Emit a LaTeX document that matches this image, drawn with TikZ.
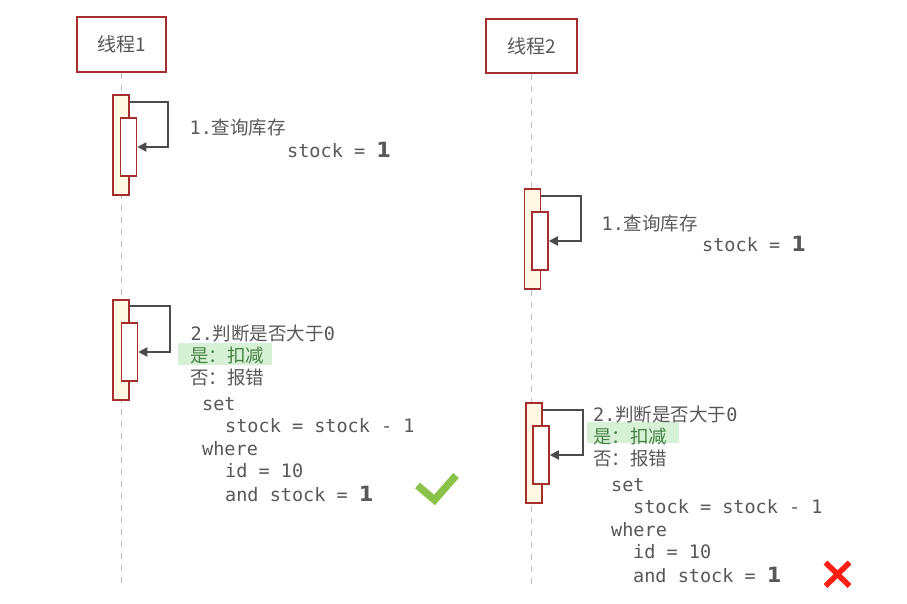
\documentclass[tikz,border=0pt]{standalone}
\usepackage{fontspec}
\setmainfont{DejaVu Sans Mono}
\newfontfamily\cjk{Noto Sans CJK SC}
\newfontfamily\bnum{DejaVu Sans}
\usetikzlibrary{arrows.meta}
\definecolor{boxred}{RGB}{165,45,45}
\definecolor{actfill}{RGB}{255,249,228}
\definecolor{txtgray}{RGB}{88,88,88}
\definecolor{arrowgray}{RGB}{75,75,75}
\definecolor{lifegray}{RGB}{190,190,190}
\definecolor{hlgreen}{RGB}{214,241,214}
\definecolor{txtgreen}{RGB}{70,130,70}
\definecolor{okgreen}{RGB}{139,195,74}
\definecolor{badred}{RGB}{255,30,20}
\tikzset{
  header/.style={draw=boxred, line width=1.8pt, fill=white, minimum width=89pt, minimum height=55pt, inner sep=0pt, font=\cjk\fontsize{19}{19}\selectfont, text=txtgray},
  actouter/.style={draw=boxred, line width=1.6pt, fill=actfill, minimum width=16pt, minimum height=100pt, inner sep=0pt},
  actinner/.style={draw=boxred, line width=1.6pt, fill=white, minimum width=16pt, minimum height=58pt, inner sep=0pt},
  lifeline/.style={draw=lifegray, line width=1.8pt, dash pattern=on 6pt off 6pt},
  selfmsg/.style={draw=arrowgray, line width=1.8pt, -{Triangle[length=9pt,width=9pt]}},
  txt/.style={anchor=base west, inner sep=0pt, text=txtgray, font=\fontsize{18.5}{22.5}\selectfont},
  gtxt/.style={txt, text=txtgreen},
  hl/.style={fill=hlgreen, draw=none},
  bignum/.style={font=\bnum\bfseries\fontsize{21}{21}\selectfont}
}
\newcommand{\bone}{{\bnum\bfseries\fontsize{21}{21}\selectfont 1}}
\begin{document}
\begin{tikzpicture}[x=1pt,y=-1pt]
\useasboundingbox (0,0) rectangle (907,604);
\fill[white] (0,0) rectangle (907,604);

% headers
\node[header] (t1) at (121.5,44.5) {线程1};
\node[header, minimum width=91pt, minimum height=54pt] (t2) at (531.5,46) {线程2};

% lifelines
\coordinate (e1) at (121.5,584);
\coordinate (e2) at (531.5,585);
\draw[lifeline] (t1.south) -- (e1);
\draw[lifeline] (t2.south) -- (e2);

% thread 1 activations
\node[actouter] (a1o) at (121,145) {};
\node[actinner] (a1i) at (128.5,147) {};
\draw[selfmsg] ([yshift=-8pt]a1o.north east) -| ([xshift=31pt]a1i.east) -- (a1i.east);

\node[actouter] (b1o) at (121,350) {};
\node[actinner] (b1i) at (129.5,352) {};
\draw[selfmsg] ([yshift=-7pt]b1o.north east) -| ([xshift=32pt]b1i.east) -- (b1i.east);

% thread 2 activations
\node[actouter] (a2o) at (532.5,239) {};
\node[actinner] (a2i) at (540,241) {};
\draw[selfmsg] ([yshift=-8pt]a2o.north east) -| ([xshift=32pt]a2i.east) -- (a2i.east);

\node[actouter] (b2o) at (534,453) {};
\node[actinner] (b2i) at (541,455) {};
\draw[selfmsg] ([yshift=-8pt]b2o.north east) -| ([xshift=33pt]b2i.east) -- (b2i.east);

% thread 1 texts
\node[txt] (q1) at (189.5,135) {1.{\cjk 查询库存}};
\node[txt] (s1) at (287,158) {stock = \bone};

\fill[hl] (178,343) rectangle (272,365);
\node[txt] (j1) at (190.5,340) {2.{\cjk 判断是否大于}0};
\node[gtxt] (y1) at (190,362) {\cjk 是：扣减};
\node[txt] (n1) at (190,384) {\cjk 否：报错};
\node[txt] (c1a) at (202,410) {set};
\node[txt] (c1b) at (225,432.5) {stock = stock - 1};
\node[txt] (c1c) at (202,455) {where};
\node[txt] (c1d) at (225,477.5) {id = 10};
\node[txt] (c1e) at (225,501) {and stock = \bone};

% check mark
\draw[okgreen, line width=7.5pt, line join=miter] (417.5,485.5) -- (434.5,500) -- (456,475.5);

% thread 2 texts
\node[txt] (q2) at (601.5,230) {1.{\cjk 查询库存}};
\node[txt] (s2) at (702,251) {stock = \bone};

\fill[hl] (587,422) rectangle (679,443);
\node[txt] (j2) at (593,421) {2.{\cjk 判断是否大于}0};
\node[gtxt] (y2) at (593,443) {\cjk 是：扣减};
\node[txt] (n2) at (593,465) {\cjk 否：报错};
\node[txt] (c2a) at (611,491) {set};
\node[txt] (c2b) at (633,513.5) {stock = stock - 1};
\node[txt] (c2c) at (611,536) {where};
\node[txt] (c2d) at (633,558.5) {id = 10};
\node[txt] (c2e) at (633,582) {and stock = \bone};

% red cross
\draw[badred, line width=5.5pt] (825.5,562.5) -- (849.5,586) (849.5,562.5) -- (825.5,586);
\end{tikzpicture}
\end{document}
